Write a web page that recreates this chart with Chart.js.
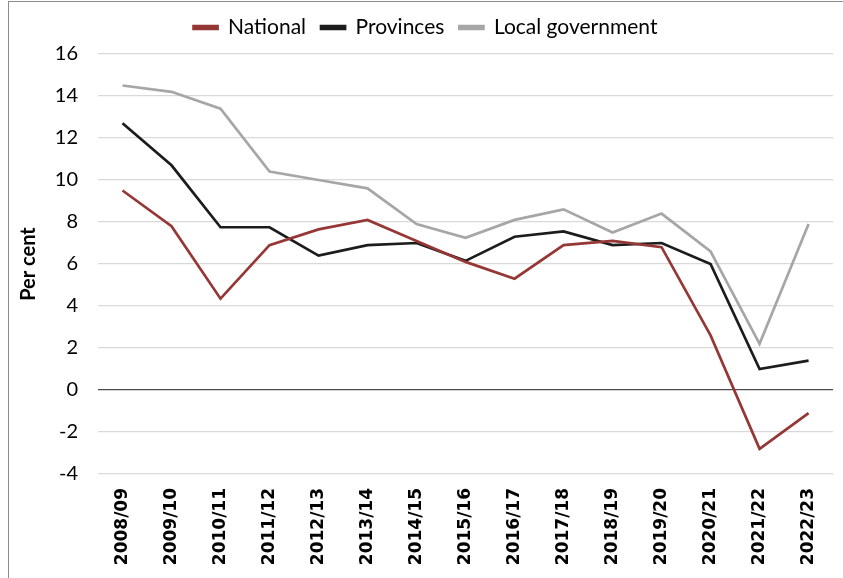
<!DOCTYPE html>
<html>
<head>
<meta charset="utf-8">
<script src="https://cdn.jsdelivr.net/npm/chart.js@4.4.1/dist/chart.umd.min.js"></script>
<style>
  html, body { margin: 0; padding: 0; background: #ffffff; }
  #wrap { position: absolute; left: 8px; top: 1px; width: 840px; height: 580px;
          border-left: 1px solid #8c8c8c; border-top: 1px solid #8c8c8c; }
  #c { position: absolute; left: 0; top: 0; }
</style>
</head>
<body>
<div id="wrap"><canvas id="c" width="834" height="576" style="width:834px;height:576px"></canvas></div>
<script>
const categories = ["2008/09","2009/10","2010/11","2011/12","2012/13","2013/14","2014/15","2015/16","2016/17","2017/18","2018/19","2019/20","2020/21","2021/22","2022/23"];
const national = [9.5, 7.8, 4.35, 6.9, 7.65, 8.1, 7.1, 6.1, 5.3, 6.9, 7.1, 6.8, 2.6, -2.8, -1.1];
const provinces = [12.7, 10.7, 7.75, 7.75, 6.4, 6.9, 7.0, 6.15, 7.3, 7.55, 6.9, 7.0, 6.0, 1.0, 1.4];
const localGovernment = [14.5, 14.2, 13.4, 10.4, 10.0, 9.6, 7.9, 7.25, 8.1, 8.6, 7.5, 8.4, 6.6, 2.2, 7.9];
const yTicks = [16, 14, 12, 10, 8, 6, 4, 2, 0, -2, -4];
const seriesNames = ["National", "Provinces", "Local government"];
const seriesColors = ["#953735", "#1c1c1c", "#a6a6a6"];

const mk = (label, data, color) => ({
  label, data, borderColor: color, backgroundColor: color,
  borderWidth: 2.7, pointRadius: 0, tension: 0, fill: false
});

const legendFit = {
  id: "legendFit",
  beforeInit(chart) {
    const lg = chart.legend;
    if (!lg) return;
    const orig = lg.fit;
    lg.fit = function () { orig.call(this); this.height += 6; };
  }
};

new Chart(document.getElementById("c"), {
  type: "line",
  data: {
    labels: categories,
    datasets: [
      mk(seriesNames[0], national, seriesColors[0]),
      mk(seriesNames[1], provinces, seriesColors[1]),
      mk(seriesNames[2], localGovernment, seriesColors[2])
    ]
  },
  plugins: [legendFit],
  options: {
    responsive: false,
    animation: false,
    devicePixelRatio: 1,
    layout: { padding: { right: 1, left: 0, top: 0, bottom: 0 } },
    plugins: {
      tooltip: { enabled: false },
      legend: {
        position: "top",
        labels: {
          font: { family: "Lato", size: 21 },
          color: "#000000",
          boxWidth: 24, boxHeight: 3,
          padding: 15
        }
      }
    },
    scales: {
      x: {
        offset: true,
        grid: { display: false, drawTicks: false },
        border: { display: false },
        ticks: {
          maxRotation: 90, minRotation: 90, autoSkip: false, padding: 14,
          color: "#000000",
          font: { family: "DejaVu Sans", size: 17, weight: "bold" }
        },
        afterFit: (s) => { s.height = 104; }
      },
      y: {
        min: -4, max: 16,
        afterBuildTicks: (s) => { s.ticks = yTicks.map(v => ({ value: v })); },
        grid: {
          drawTicks: false,
          color: (ctx) => ctx.tick && ctx.tick.value === 0 ? "#4d4d4d" : "#d9d9d9",
          lineWidth: 1.3
        },
        border: { display: false },
        ticks: {
          padding: 20, color: "#000000",
          font: { family: "Lato", size: 20 }
        },
        title: {
          display: true, text: "Per cent", color: "#000000",
          font: { family: "Lato", size: 20, weight: "bold" }, padding: { top: 8, bottom: 0 }
        },
        afterFit: (s) => { s.width = 89; }
      }
    }
  }
});
</script>
</body>
</html>
